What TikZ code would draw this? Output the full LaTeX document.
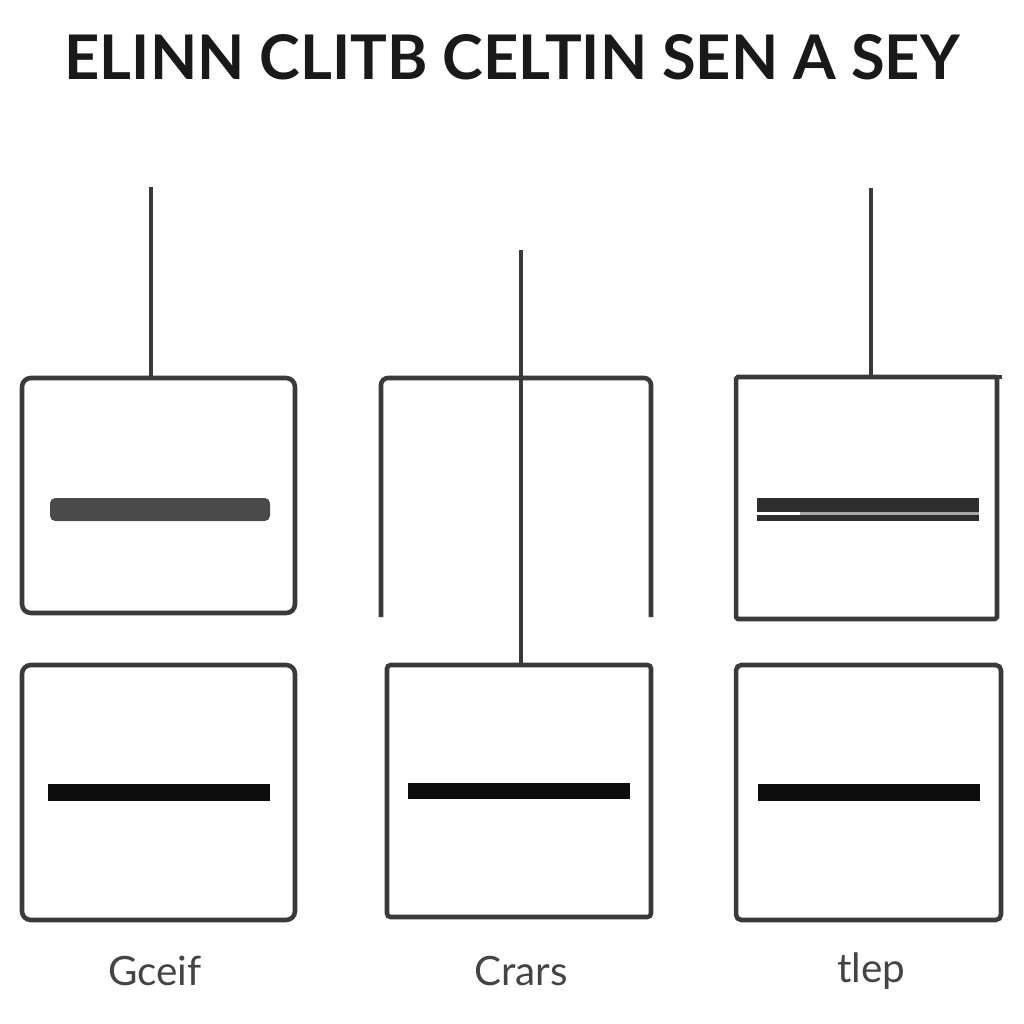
\documentclass[tikz,border=0pt]{standalone}
\usepackage{graphicx}
\usepackage{fontspec}
\setmainfont{Lato}
\usetikzlibrary{calc}

\definecolor{linegray}{HTML}{3A3A3A}
\definecolor{bargray}{HTML}{4A4A4A}
\definecolor{labelgray}{HTML}{444444}

\begin{document}
\begin{tikzpicture}[x=0.02cm,y=-0.02cm,
    box/.style={draw=linegray,line width=2.6pt,rounded corners=5pt,inner sep=0pt,outer sep=0pt},
    stem/.style={draw=linegray,line width=2.6pt},
    lbl/.style={text=labelgray,font=\fontsize{23}{23}\selectfont}]
    \useasboundingbox (0,0) rectangle (1024,1024);
    % title
    \node[text=black!90] (title) at (512,57) {\resizebox{17.9cm}{0.9cm}{\bfseries ELINN CLITB CELTIN SEN A SEY}};
    % top row
    \node[box,minimum width=5.46cm,minimum height=4.7cm] (b1) at (158.5,495.5) {};
    \fill[bargray,rounded corners=3pt] (50,498) rectangle (270,521);
    \coordinate (t1) at (151,187);
    \draw[stem] (t1) -- (t1 |- b1.north);
    \draw[stem,rounded corners=4pt] (381,617) -- (381,378) -- (651,378) -- (651,617);
    \node[box,rounded corners=1pt,minimum width=5.22cm,minimum height=4.84cm] (b3) at (866.5,498) {};
    \draw[stem] ($(b3.north east)+(-3,0)$) -- ++(8,0);
    \fill[linegray!80!black] (757,498) rectangle (979,512);
    \fill[linegray!80!black] (757,515) rectangle (979,521);
    \fill[gray!70] (800,512) rectangle (979,515);
    \coordinate (t3) at (871,188);
    \draw[stem] (t3) -- (t3 |- b3.north);
    % bottom row
    \node[box,minimum width=5.46cm,minimum height=5.1cm] (b4) at (158.5,792.5) {};
    \node[box,rounded corners=2pt,minimum width=5.28cm,minimum height=5.04cm] (b5) at (519,791) {};
    \node[box,rounded corners=3pt,minimum width=5.3cm,minimum height=5.1cm] (b6) at (868.5,792.5) {};
    \coordinate (t2) at (521,250);
    \draw[stem] (t2) -- (t2 |- b5.north);
    \foreach \b in {b4,b5,b6}
        \fill[black!95] ($(\b.center)+(-111,-8.5)$) rectangle ($(\b.center)+(111,8)$);
    % labels
    \node[lbl] (l1) at (155,971) {Gceif};
    \node[lbl] (l2) at (521,971) {Crars};
    \node[lbl] (l3) at (871,971) {tlep};
\end{tikzpicture}
\end{document}
